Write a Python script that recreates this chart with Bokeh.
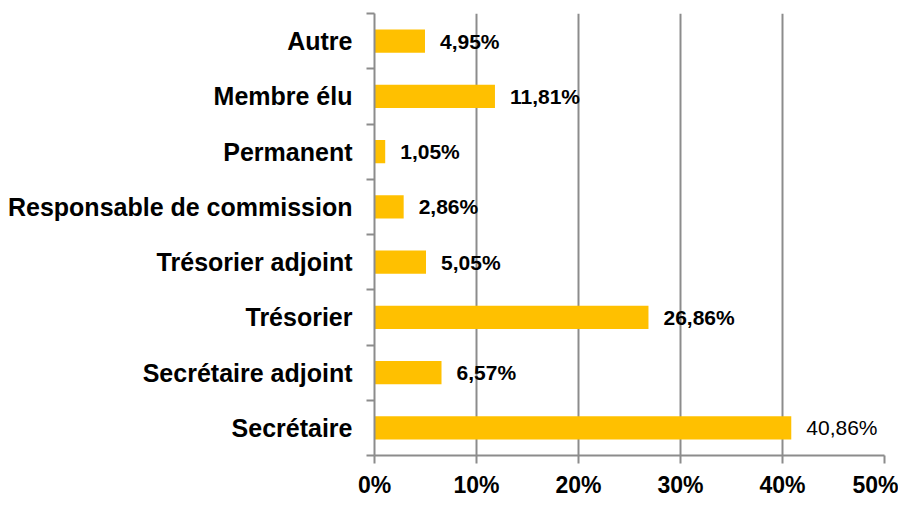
from bokeh.plotting import figure
from bokeh.models import ColumnDataSource, FixedTicker, Range1d, LinearAxis, Grid
from bokeh.core.properties import value
from bokeh.embed import file_html
from bokeh.resources import INLINE

# bottom-to-top order
categories = ["Secrétaire", "Secrétaire adjoint", "Trésorier", "Trésorier adjoint",
              "Responsable de commission", "Permanent", "Membre élu", "Autre"]
values = [40.86, 6.57, 26.86, 5.05, 2.86, 1.05, 11.81, 4.95]
x_ticks = [0, 10, 20, 30, 40, 50]
x_tick_labels = ["0%", "10%", "20%", "30%", "40%", "50%"]

pos = [i + 0.5 for i in range(len(categories))]
labels = [("%.2f" % v).replace(".", ",") + "%" for v in values]

FONT = "Liberation Sans"
GRID = "#8c8c8c"

p = figure(width=898, height=500, output_backend="svg", toolbar_location=None,
           x_range=Range1d(0, 50), y_range=Range1d(0, len(categories)),
           min_border_left=374, min_border_right=14, min_border_top=13, min_border_bottom=43,
           x_axis_type=None, y_axis_type=None)
p.outline_line_color = None
p.background_fill_color = "white"

xa = LinearAxis(ticker=FixedTicker(ticks=x_ticks),
                major_label_overrides={t: l for t, l in zip(x_ticks, x_tick_labels)})
xa.axis_line_color = GRID
xa.axis_line_width = 2
xa.major_tick_line_color = GRID
xa.major_tick_line_width = 2
xa.major_tick_in = 0
xa.major_tick_out = 8
xa.minor_tick_line_color = None
xa.major_label_text_font = FONT
xa.major_label_text_font_style = "bold"
xa.major_label_text_font_size = "23px"
xa.major_label_text_color = "black"
xa.major_label_standoff = 8
p.add_layout(xa, "below")

ya = LinearAxis(ticker=FixedTicker(ticks=pos, minor_ticks=list(range(len(categories) + 1))),
                major_label_overrides={pp: c for pp, c in zip(pos, categories)})
ya.axis_line_color = GRID
ya.axis_line_width = 2
ya.major_tick_line_color = None
ya.minor_tick_line_color = GRID
ya.minor_tick_line_width = 2
ya.minor_tick_in = 0
ya.minor_tick_out = 8
ya.major_label_text_font = FONT
ya.major_label_text_font_style = "bold"
ya.major_label_text_font_size = "25px"
ya.major_label_text_color = "black"
ya.major_label_standoff = 14
p.add_layout(ya, "left")

g = Grid(dimension=0, ticker=FixedTicker(ticks=x_ticks[1:]))
g.grid_line_color = GRID
g.grid_line_width = 2
p.add_layout(g)

src = ColumnDataSource(dict(y=pos, v=values, lab=labels,
                            weight=["normal"] + ["bold"] * (len(values) - 1)))
p.hbar(y="y", left=0, right="v", height=0.42, source=src,
       fill_color="#FFC000", line_color=None)
p.text(x="v", y="y", text="lab", source=src, x_offset=15,
       text_font=value(FONT), text_font_style="weight", text_font_size="21px",
       text_baseline="middle", text_align="left", text_color="black")

open("out.html", "w").write(file_html(p, INLINE))
